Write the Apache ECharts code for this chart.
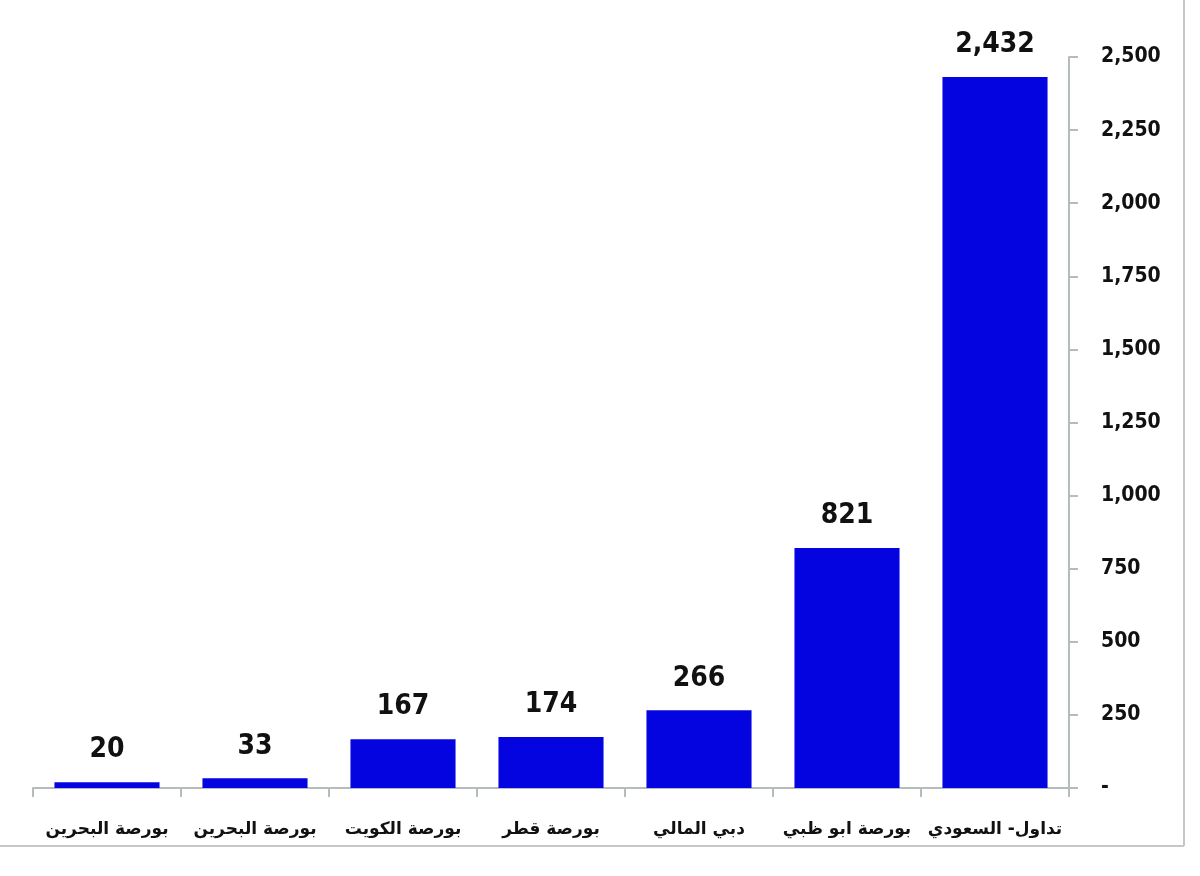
<!DOCTYPE html>
<html><head><meta charset="utf-8">
<script src="https://cdn.jsdelivr.net/npm/echarts@6/dist/echarts.min.js"></script>
<style>html,body{margin:0;padding:0;background:#fff}#c{width:1200px;height:876px}</style>
</head><body><div id="c"></div>
<script>
const categories = ['بورصة البحرين','بورصة البحرين','بورصة الكويت','بورصة قطر','دبي المالي','بورصة ابو ظبي','تداول- السعودي'];
const values = [20, 33, 167, 174, 266, 821, 2432];
const yMin = 0, yMax = 2500, yStep = 250;

const chart = echarts.init(document.getElementById('c'), null, {renderer:'canvas'});
const fmt = v => v === 0 ? '-' : v.toLocaleString('en-US');
const numFont = 'DejaVu Sans Condensed';
chart.setOption({
  animation:false,
  backgroundColor:'#fff',
  graphic:[
    {type:'line', shape:{x1:1184, y1:0, x2:1184, y2:846}, style:{stroke:'#c4c8c8', lineWidth:2}, silent:true},
    {type:'line', shape:{x1:0, y1:846, x2:1184, y2:846}, style:{stroke:'#c4c8c8', lineWidth:2}, silent:true}
  ],
  grid:{left:33, right:131, top:57, bottom:88, containLabel:false},
  xAxis:{type:'category', data:categories,
    axisLine:{lineStyle:{color:'#b4bcbc', width:2}},
    axisTick:{show:true, length:9, lineStyle:{color:'#b4bcbc', width:2}},
    axisLabel:{interval:0, margin:33, color:'#111', fontFamily:'DejaVu Sans', fontWeight:'bold', fontSize:17}
  },
  yAxis:{type:'value', position:'right', min:yMin, max:yMax, interval:yStep,
    splitLine:{show:false},
    axisLine:{show:true, lineStyle:{color:'#b4bcbc', width:2}},
    axisTick:{show:true, length:9, lineStyle:{color:'#b4bcbc', width:2}},
    axisLabel:{margin:32, color:'#111', fontFamily:numFont, fontWeight:'bold', fontSize:21, formatter:fmt}
  },
  series:[{type:'bar', data:values, barWidth:'71%',
    itemStyle:{color:'#0404e0'},
    label:{show:true, position:'top', distance:18, color:'#111', fontFamily:numFont, fontWeight:'bold', fontSize:28, formatter:p=>fmt(p.value)}
  }]
});
</script></body></html>
